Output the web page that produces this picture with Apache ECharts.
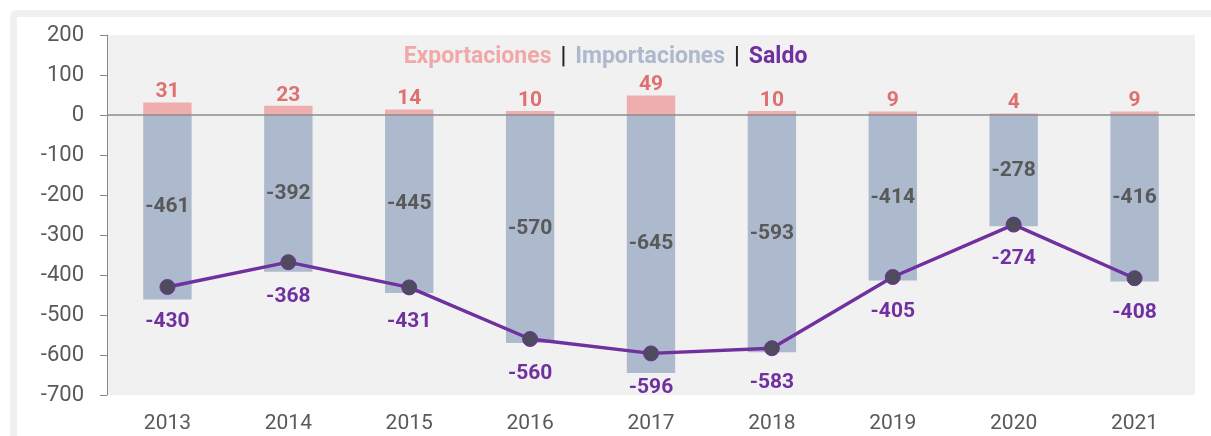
<!DOCTYPE html>
<html>
<head>
<meta charset="utf-8">
<script src="https://cdn.jsdelivr.net/npm/echarts@6/dist/echarts.min.js"></script>
<style>
html,body{margin:0;padding:0;background:#fff;}
#chart{width:1211px;height:436px;}
</style>
</head>
<body>
<div id="chart"></div>
<script>
// Annual trade figures
const years = ['2013','2014','2015','2016','2017','2018','2019','2020','2021'];
const exportaciones = [31, 23, 14, 10, 49, 10, 9, 4, 9];
const importaciones = [-461, -392, -445, -570, -645, -593, -414, -278, -416];
const saldo = [-430, -368, -431, -560, -596, -583, -405, -274, -408];

const FONT = 'Roboto, "Noto Sans", sans-serif';
const chart = echarts.init(document.getElementById('chart'), null, {renderer: 'canvas'});

chart.setOption({
  backgroundColor: '#ffffff',
  animation: false,
  graphic: [
    {type: 'rect', z: -10, shape: {x: 10, y: 10, width: 1240, height: 460, r: 6}, style: {fill: '#f0f0f0'}},
    {type: 'rect', z: -9, shape: {x: 17, y: 17, width: 1240, height: 460}, style: {fill: '#ffffff'}},
    {
      type: 'text', left: 'center', top: 46, z: 10,
      style: {
        text: '{e|Exportaciones}{p||}{i|Importaciones}{p||}{s|Saldo}',
        rich: {
          e: {fill: '#f0a8a8', fontSize: 23, fontWeight: 'bold', fontFamily: FONT},
          i: {fill: '#adb9cc', fontSize: 23, fontWeight: 'bold', fontFamily: FONT},
          s: {fill: '#7030a0', fontSize: 23, fontWeight: 'bold', fontFamily: FONT},
          p: {fill: '#222222', fontSize: 23, fontWeight: 'bold', fontFamily: FONT, padding: [0, 9]}
        }
      }
    }
  ],
  grid: {
    left: 107, right: 16, top: 35, bottom: 41,
    show: true, backgroundColor: '#f1f1f1', borderWidth: 0
  },
  xAxis: {
    type: 'category', data: years, position: 'bottom',
    axisLine: {show: false}, axisTick: {show: false},
    axisLabel: {color: '#595959', fontSize: 21, fontFamily: FONT, margin: 18}
  },
  yAxis: {
    type: 'value', min: -700, max: 200, interval: 100,
    axisLine: {show: true, lineStyle: {color: '#888888', width: 1}},
    axisTick: {show: true, length: 7, lineStyle: {color: '#888888'}},
    splitLine: {show: false},
    axisLabel: {color: '#595959', fontSize: 22, fontFamily: FONT, margin: 23}
  },
  series: [
    {
      name: 'Importaciones', type: 'bar', stack: 'comercio', data: importaciones,
      barWidth: '40%',
      itemStyle: {color: '#adb9cc'},
      label: {show: true, position: 'inside', color: '#595959', fontSize: 21, fontWeight: 'bold', fontFamily: FONT},
      markLine: {
        silent: true, symbol: 'none', label: {show: false},
        lineStyle: {color: '#8c8c8c', width: 1.5, type: 'solid'},
        data: [{yAxis: 0}]
      }
    },
    {
      name: 'Exportaciones', type: 'bar', stack: 'comercio', data: exportaciones,
      barWidth: '40%',
      itemStyle: {color: '#eeaeae'},
      label: {show: true, position: 'top', distance: 0, color: '#e07070', fontSize: 21, fontWeight: 'bold', fontFamily: FONT}
    },
    {
      name: 'Saldo', type: 'line', data: saldo, z: 5,
      symbol: 'circle', symbolSize: 15,
      lineStyle: {color: '#7030a0', width: 3.4},
      itemStyle: {color: '#4d4b5c', borderColor: '#7030a0', borderWidth: 1},
      label: {show: true, position: 'bottom', distance: 16, color: '#7030a0', fontSize: 21, fontWeight: 'bold', fontFamily: FONT}
    }
  ]
});
</script>
</body>
</html>
